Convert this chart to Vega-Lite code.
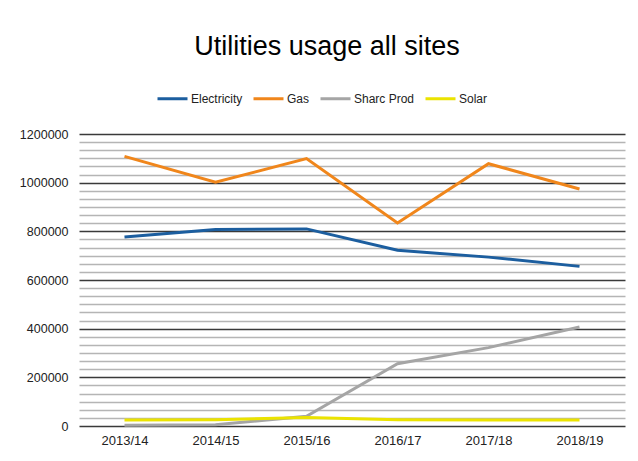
{
  "$schema": "https://vega.github.io/schema/vega-lite/v6.json",
  "autosize": {"type": "none"},
  "width": 546,
  "height": 292,
  "padding": {"left": 79, "top": 134, "right": 13, "bottom": 35},
  "background": "white",
  "title": {
    "text": "Utilities usage all sites",
    "font": "Liberation Sans",
    "fontSize": 27,
    "fontWeight": "normal",
    "color": "#000000",
    "anchor": "middle",
    "frame": "group",
    "dx": -25,
    "offset": 21
  },
  "data": {
    "values": [
      {"year": "2013/14", "series": "Electricity", "value": 777000},
      {"year": "2014/15", "series": "Electricity", "value": 808000},
      {"year": "2015/16", "series": "Electricity", "value": 810000},
      {"year": "2016/17", "series": "Electricity", "value": 722000},
      {"year": "2017/18", "series": "Electricity", "value": 694000},
      {"year": "2018/19", "series": "Electricity", "value": 656000},
      {"year": "2013/14", "series": "Gas", "value": 1108000},
      {"year": "2014/15", "series": "Gas", "value": 1002000},
      {"year": "2015/16", "series": "Gas", "value": 1099000},
      {"year": "2016/17", "series": "Gas", "value": 834000},
      {"year": "2017/18", "series": "Gas", "value": 1078000},
      {"year": "2018/19", "series": "Gas", "value": 974000},
      {"year": "2013/14", "series": "Sharc Prod", "value": 3000},
      {"year": "2014/15", "series": "Sharc Prod", "value": 5000},
      {"year": "2015/16", "series": "Sharc Prod", "value": 40000},
      {"year": "2016/17", "series": "Sharc Prod", "value": 256000},
      {"year": "2017/18", "series": "Sharc Prod", "value": 322000},
      {"year": "2018/19", "series": "Sharc Prod", "value": 407000},
      {"year": "2013/14", "series": "Solar", "value": 25000},
      {"year": "2014/15", "series": "Solar", "value": 26000},
      {"year": "2015/16", "series": "Solar", "value": 35000},
      {"year": "2016/17", "series": "Solar", "value": 26000},
      {"year": "2017/18", "series": "Solar", "value": 25000},
      {"year": "2018/19", "series": "Solar", "value": 25000}
    ]
  },
  "mark": {"type": "line", "strokeWidth": 3, "interpolate": "linear"},
  "encoding": {
    "x": {
      "field": "year",
      "type": "ordinal",
      "title": null,
      "axis": {
        "labelAngle": 0,
        "domain": false,
        "ticks": false,
        "labelFont": "Liberation Sans",
        "labelFontSize": 13,
        "labelColor": "#222222",
        "labelPadding": 8
      }
    },
    "y": {
      "field": "value",
      "type": "quantitative",
      "title": null,
      "scale": {"domain": [0, 1200000], "nice": false},
      "axis": {
        "values": [0, 33333.33, 66666.67, 100000, 133333.33, 166666.67, 200000, 233333.33, 266666.67, 300000, 333333.33, 366666.67, 400000, 433333.33, 466666.67, 500000, 533333.33, 566666.67, 600000, 633333.33, 666666.67, 700000, 733333.33, 766666.67, 800000, 833333.33, 866666.67, 900000, 933333.33, 966666.67, 1000000, 1033333.33, 1066666.67, 1100000, 1133333.33, 1166666.67, 1200000],
        "labelExpr": "abs(datum.value % 200000) < 1 ? format(datum.value, 'd') : ''",
        "domain": false,
        "ticks": false,
        "labelFont": "Liberation Sans",
        "labelFontSize": 12.5,
        "labelColor": "#222222",
        "labelPadding": 11,
        "gridWidth": 1.5,
        "gridColor": {"condition": {"test": "abs(datum.value % 200000) < 1", "value": "#3a3a3a"}, "value": "#b5b5b5"},
        "labelOverlap": false
      }
    },
    "color": {
      "field": "series",
      "type": "nominal",
      "scale": {
        "domain": ["Electricity", "Gas", "Sharc Prod", "Solar"],
        "range": ["#1c5e9f", "#f0861b", "#a5a5a5", "#ebe300"]
      },
      "legend": {
        "title": null,
        "orient": "none",
        "direction": "horizontal",
        "legendX": 77,
        "legendY": -52,
        "symbolType": "stroke",
        "symbolSize": 900,
        "symbolStrokeWidth": 3,
        "labelFont": "Liberation Sans",
        "labelFontSize": 12,
        "labelColor": "#222222",
        "labelOffset": 2,
        "columnPadding": 4
      }
    }
  },
  "config": {
    "view": {"stroke": null}
  }
}
